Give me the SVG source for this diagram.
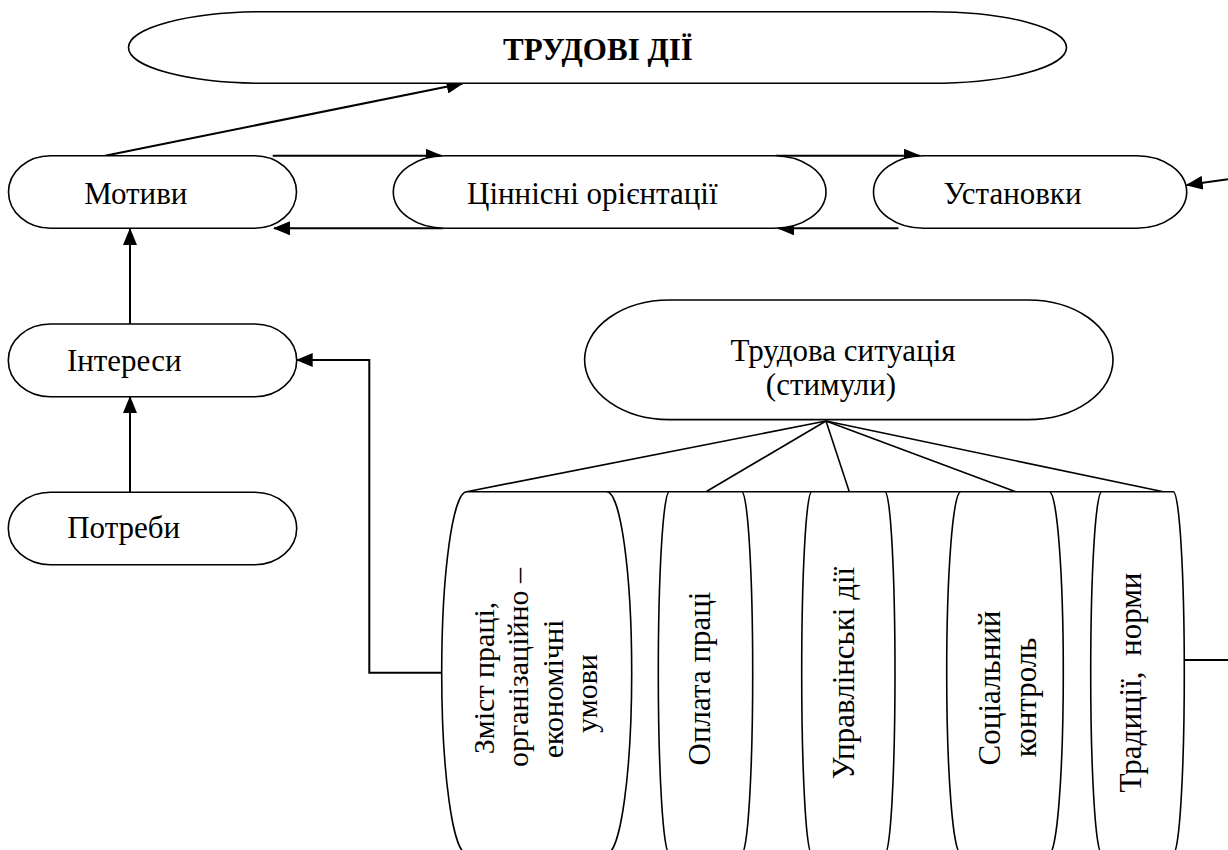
<svg xmlns="http://www.w3.org/2000/svg" width="1228" height="850" viewBox="0 0 1228 850">
<style>
.shape{fill:#fff;stroke:#000;stroke-width:1.6}
.c{fill:none;stroke:#000;stroke-width:2}
.f{fill:none;stroke:#000;stroke-width:1.6}
</style>
<defs>
<marker id="ah" markerWidth="17" markerHeight="14" refX="16" refY="7" orient="auto" markerUnits="userSpaceOnUse">
<path d="M0,0 L17,7 L0,14 Z" fill="#000"/>
</marker>
</defs>
<rect width="1228" height="850" fill="#fff"/>
<g id="connectors">
<line class="c" x1="105" y1="155.7" x2="462.6" y2="83.5" marker-end="url(#ah)"/>
<line class="c" x1="272.7" y1="155.7" x2="441.7" y2="155.7" marker-end="url(#ah)"/>
<line class="c" x1="443.3" y1="228.3" x2="274" y2="228.3" marker-end="url(#ah)"/>
<line class="c" x1="776" y1="155.7" x2="920" y2="155.7" marker-end="url(#ah)"/>
<line class="c" x1="898.4" y1="228.3" x2="778" y2="228.3" marker-end="url(#ah)"/>
<line class="c" x1="1228" y1="179.3" x2="1186.7" y2="185" marker-end="url(#ah)"/>
<line class="c" x1="130" y1="324" x2="130" y2="229" marker-end="url(#ah)"/>
<line class="c" x1="130" y1="492.3" x2="130" y2="397" marker-end="url(#ah)"/>
<polyline class="c" points="441.7,672.7 369.3,672.7 369.3,360 296.7,360" marker-end="url(#ah)"/>
<line class="c" x1="1184.3" y1="660" x2="1228" y2="660"/>
<line class="f" x1="826" y1="421" x2="466.7" y2="491.7"/>
<line class="f" x1="826" y1="421" x2="706" y2="491.7"/>
<line class="f" x1="826" y1="421" x2="849.3" y2="491.7"/>
<line class="f" x1="826" y1="421" x2="1015.7" y2="491.7"/>
<line class="f" x1="826" y1="421" x2="1163.3" y2="491.7"/>
</g>
<g id="trudovi-dii">
<rect class="shape" x="128.5" y="11.7" width="938" height="71.6" rx="135" ry="35.8"/>
<text font-family="Liberation Serif, serif" font-size="31" font-weight="bold" x="598" y="60" text-anchor="middle">ТРУДОВІ ДІЇ</text>
</g>
<g id="motyvy">
<rect class="shape" x="8.5" y="155.7" width="288" height="72.6" rx="42" ry="36.3"/>
<text font-family="Liberation Serif, serif" font-size="31" x="135.8" y="203.5" text-anchor="middle">Мотиви</text>
</g>
<g id="tsinnisni">
<rect class="shape" x="393.3" y="155.7" width="432.7" height="72.6" rx="52" ry="36.3"/>
<text font-family="Liberation Serif, serif" font-size="31" x="592.3" y="204" text-anchor="middle">Ціннісні орієнтації</text>
</g>
<g id="ustanovky">
<rect class="shape" x="873.5" y="155.7" width="313.2" height="72.6" rx="50" ry="36.3"/>
<text font-family="Liberation Serif, serif" font-size="31" x="1012.5" y="204" text-anchor="middle">Установки</text>
</g>
<g id="interesy">
<rect class="shape" x="8.3" y="324" width="288.4" height="72.7" rx="42" ry="36.3"/>
<text font-family="Liberation Serif, serif" font-size="31" x="124.2" y="370.7" text-anchor="middle">Інтереси</text>
</g>
<g id="potreby">
<rect class="shape" x="8.3" y="492.3" width="288.4" height="72.4" rx="42" ry="36.2"/>
<text font-family="Liberation Serif, serif" font-size="31" x="123.7" y="538.3" text-anchor="middle">Потреби</text>
</g>
<g id="trudova-sytuatsiia">
<rect class="shape" x="584.6" y="300" width="528.4" height="119.6" rx="85" ry="59.8"/>
<text font-family="Liberation Serif, serif" font-size="31" x="843" y="361" text-anchor="middle">Трудова ситуація</text>
<text font-family="Liberation Serif, serif" font-size="31" x="831" y="395" text-anchor="middle">(стимули)</text>
</g>
<g id="top-bar">
<line class="f" x1="466.7" y1="491.7" x2="1171.7" y2="491.7"/>
</g>
<g id="zmist">
<rect class="shape" x="441.7" y="491.7" width="190" height="362" rx="25" ry="181"/>
<text font-family="Liberation Serif, serif" font-size="30" transform="translate(494,678) rotate(-90)" text-anchor="middle">Зміст праці,</text>
<text font-family="Liberation Serif, serif" font-size="30" transform="translate(528.3,667.5) rotate(-90)" text-anchor="middle">організаційно –</text>
<text font-family="Liberation Serif, serif" font-size="30" transform="translate(562.7,689) rotate(-90)" text-anchor="middle">економічні</text>
<text font-family="Liberation Serif, serif" font-size="30" transform="translate(597.2,693.5) rotate(-90)" text-anchor="middle">умови</text>
</g>
<g id="oplata">
<rect class="shape" x="658.3" y="491.7" width="94.4" height="362" rx="11" ry="181"/>
<text font-family="Liberation Serif, serif" font-size="31" transform="translate(710,678.5) rotate(-90)" text-anchor="middle">Оплата праці</text>
</g>
<g id="upravlinski">
<rect class="shape" x="801.7" y="491.7" width="93.3" height="362" rx="10" ry="181"/>
<text font-family="Liberation Serif, serif" font-size="31" transform="translate(853.5,673) rotate(-90)" text-anchor="middle">Управлінські дії</text>
</g>
<g id="sotsialnyi">
<rect class="shape" x="946.7" y="491.7" width="116.6" height="362" rx="14" ry="181"/>
<text font-family="Liberation Serif, serif" font-size="31" transform="translate(999.5,688) rotate(-90)" text-anchor="middle">Соціальний</text>
<text font-family="Liberation Serif, serif" font-size="31" transform="translate(1036,697.5) rotate(-90)" text-anchor="middle">контроль</text>
</g>
<g id="tradytsii">
<rect class="shape" x="1090.7" y="491.7" width="93.6" height="362" rx="11" ry="181"/>
<text font-family="Liberation Serif, serif" font-size="31" transform="translate(1141,682.5) rotate(-90)" text-anchor="middle" xml:space="preserve">Традиції,  норми</text>
</g>
</svg>
